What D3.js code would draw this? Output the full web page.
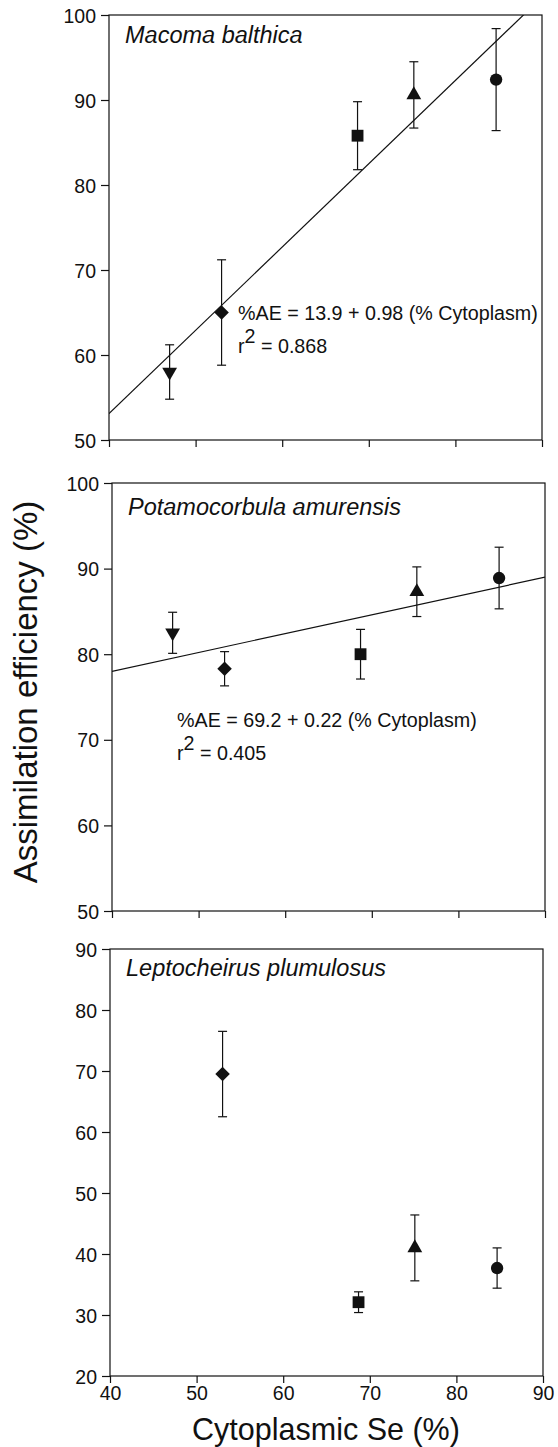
<!DOCTYPE html>
<html>
<head>
<meta charset="utf-8">
<script src="https://cdn.jsdelivr.net/npm/d3@7"></script>
<style>
  body { margin: 0; background: #fff; }
  svg { display: block; font-family: "Liberation Sans", Arial, sans-serif; }
</style>
</head>
<body>
<div id="chart"></div>
<script>
// cytoplasmic Se (%) for the five food types, same in every panel
var cytoSe = [47.0, 53.0, 68.7, 75.2, 84.7];
var symbols = ["triangle-down", "diamond", "square", "triangle", "circle"];

var macomaAE = [58.0, 65.0, 85.8, 90.6, 92.4];
var macomaErr = [3.2, 6.2, 4.0, 3.9, 6.0];
var potamoAE = [82.5, 78.3, 80.0, 87.3, 88.9];
var potamoErr = [2.4, 2.0, 2.9, 2.9, 3.6];
var leptoAE = [null, 69.5, 32.1, 41.0, 37.7];
var leptoErr = [null, 7.0, 1.7, 5.4, 3.3];

var xTicks = [40, 50, 60, 70, 80, 90];
var yTicksTop = [50, 60, 70, 80, 90, 100];
var yTicksLow = [20, 30, 40, 50, 60, 70, 80, 90];

var panels = [
  { name: "Macoma balthica", ae: macomaAE, err: macomaErr, ydom: [50, 100], yticks: yTicksTop,
    fit: [13.9, 0.98], eq: "%AE = 13.9 + 0.98 (% Cytoplasm)", r2: "0.868",
    left: 109, right: 542, top: 15, bottom: 440, titleY: 43, eqx: 238, eqy: 320 },
  { name: "Potamocorbula amurensis", ae: potamoAE, err: potamoErr, ydom: [50, 100], yticks: yTicksTop,
    fit: [69.2, 0.22], eq: "%AE = 69.2 + 0.22 (% Cytoplasm)", r2: "0.405",
    left: 112, right: 545, top: 483, bottom: 911, titleY: 515, eqx: 177, eqy: 727 },
  { name: "Leptocheirus plumulosus", ae: leptoAE, err: leptoErr, ydom: [20, 90], yticks: yTicksLow,
    fit: null, left: 110, right: 543, top: 949, bottom: 1376, titleY: 976, xlabels: true }
];

var W = 558, H = 1447;
var svg = d3.select("#chart").append("svg")
  .attr("width", W)
  .attr("height", H);

var symbolPath = {
  "circle": d3.symbol().type(d3.symbolCircle).size(120)(),
  "square": d3.symbol().type(d3.symbolSquare).size(140)(),
  "diamond": d3.symbol().type(d3.symbolSquare).size(105)(),
  "triangle": d3.symbol().type(d3.symbolTriangle).size(95)(),
  "triangle-down": d3.symbol().type(d3.symbolTriangle).size(95)()
};
var symbolRot = { "diamond": 45, "triangle-down": 180 };

panels.forEach(function(p, i) {
  var x = d3.scaleLinear().domain([40, 90]).range([p.left, p.right]);
  var y = d3.scaleLinear().domain(p.ydom).range([p.bottom, p.top]);
  var g = svg.append("g");

  // frame
  g.append("rect")
    .attr("x", p.left).attr("y", p.top)
    .attr("width", p.right - p.left).attr("height", p.bottom - p.top)
    .attr("fill", "none").attr("stroke", "#111").attr("stroke-width", 1.2);

  var yAxis = g.append("g")
    .attr("transform", "translate(" + p.left + ",0)")
    .call(d3.axisLeft(y).tickValues(p.yticks).tickSize(8).tickSizeOuter(0).tickPadding(5));
  var xAxis = g.append("g")
    .attr("transform", "translate(0," + p.bottom + ")")
    .call(d3.axisBottom(x).tickValues(xTicks).tickSize(7).tickSizeOuter(0).tickPadding(3)
      .tickFormat(p.xlabels ? d3.format("d") : ""));
  [yAxis, xAxis].forEach(function(a) {
    a.select(".domain").remove();
    a.selectAll("line").attr("stroke", "#111").attr("stroke-width", 1.2);
    a.selectAll("text").attr("fill", "#111").style("font-size", "19.5px")
      .style("font-family", "'Liberation Sans', Arial, sans-serif");
  });
  yAxis.selectAll("text").attr("dy", "0.36em");

  // title
  g.append("text")
    .attr("x", p.left + 16).attr("y", p.titleY)
    .style("font-size", "23.5px").style("font-style", "italic").attr("fill", "#111")
    .text(p.name);

  var clipId = "clip" + i;
  g.append("clipPath").attr("id", clipId).append("rect")
    .attr("x", p.left).attr("y", p.top)
    .attr("width", p.right - p.left).attr("height", p.bottom - p.top);

  if (p.fit) {
    g.append("line")
      .attr("clip-path", "url(#" + clipId + ")")
      .attr("x1", x(40)).attr("y1", y(p.fit[0] + p.fit[1] * 40))
      .attr("x2", x(90)).attr("y2", y(p.fit[0] + p.fit[1] * 90))
      .attr("stroke", "#111").attr("stroke-width", 1.2);

    g.append("text").attr("fill", "#111").style("font-size", "19.7px")
      .attr("x", p.eqx).attr("y", p.eqy).text(p.eq);
    var t2 = g.append("text").attr("fill", "#111").style("font-size", "19.7px")
      .attr("x", p.eqx).attr("y", p.eqy + 33);
    t2.append("tspan").text("r");
    t2.append("tspan").attr("dy", -10).text("2");
    t2.append("tspan").attr("dy", 10).text(" = " + p.r2);
  }

  var pts = cytoSe.map(function(v, k) {
    return { x: v, y: p.ae[k], e: p.err[k], s: symbols[k] };
  }).filter(function(d) { return d.y != null; });

  var eb = g.append("g").attr("stroke", "#111").attr("stroke-width", 1.2);
  pts.forEach(function(d) {
    var cx = x(d.x);
    eb.append("line").attr("x1", cx).attr("x2", cx).attr("y1", y(d.y - d.e)).attr("y2", y(d.y + d.e));
    eb.append("line").attr("x1", cx - 4.5).attr("x2", cx + 4.5).attr("y1", y(d.y - d.e)).attr("y2", y(d.y - d.e));
    eb.append("line").attr("x1", cx - 4.5).attr("x2", cx + 4.5).attr("y1", y(d.y + d.e)).attr("y2", y(d.y + d.e));
  });

  g.selectAll(".pt").data(pts).enter().append("path")
    .attr("class", "pt")
    .attr("d", function(d) { return symbolPath[d.s]; })
    .attr("transform", function(d) {
      return "translate(" + x(d.x) + "," + y(d.y) + ")" + (symbolRot[d.s] ? " rotate(" + symbolRot[d.s] + ")" : "");
    })
    .attr("fill", "#111");
});

svg.append("text")
  .attr("transform", "translate(37,692) rotate(-90)")
  .attr("text-anchor", "middle")
  .style("font-size", "33px").attr("fill", "#111")
  .text("Assimilation efficiency (%)");

svg.append("text")
  .attr("x", 326).attr("y", 1440)
  .attr("text-anchor", "middle")
  .style("font-size", "30.5px").attr("fill", "#111")
  .text("Cytoplasmic Se (%)");
</script>
</body>
</html>
